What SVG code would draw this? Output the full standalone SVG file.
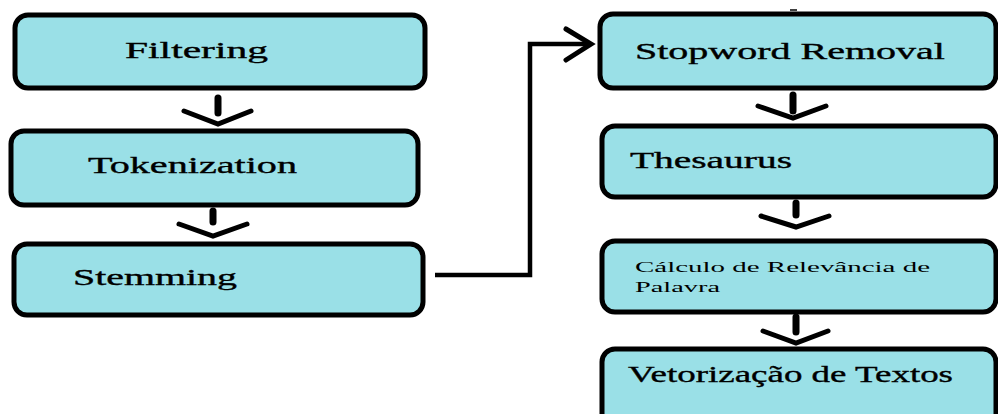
<svg xmlns="http://www.w3.org/2000/svg" width="998" height="414" viewBox="0 0 998 414">
  <style>
    .box { fill: #9ae0e7; stroke: #000; stroke-width: 5; }
    .lbl { font-family: "Liberation Serif", "Times New Roman", serif; font-size: 23px; fill: #000; stroke: #000; stroke-width: 0.35; }
    .sm { font-size: 15px; stroke-width: 0; }
    .stem { fill: none; stroke: #000; stroke-width: 7; stroke-linecap: round; }
    .chev { fill: none; stroke: #000; stroke-width: 5; stroke-linecap: round; stroke-linejoin: miter; }
    .wire { fill: none; stroke: #000; stroke-width: 4.5; stroke-linejoin: miter; }
  </style>
  <rect width="998" height="414" fill="#fff"/>

  <!-- left column -->
  <g id="filtering">
    <rect class="box" x="15" y="15" width="410" height="73" rx="13"/>
    <text class="lbl" x="125" y="58" textLength="143" lengthAdjust="spacingAndGlyphs">Filtering</text>
  </g>
  <g id="tokenization">
    <rect class="box" x="11" y="131" width="407" height="74" rx="13"/>
    <text class="lbl" x="88" y="173" textLength="209" lengthAdjust="spacingAndGlyphs">Tokenization</text>
  </g>
  <g id="stemming">
    <rect class="box" x="14" y="244" width="409" height="71" rx="13"/>
    <text class="lbl" x="73" y="285" textLength="164" lengthAdjust="spacingAndGlyphs">Stemming</text>
  </g>

  <!-- right column -->
  <g id="stopword-removal">
    <rect class="box" x="600" y="14" width="396" height="74" rx="13"/>
    <text class="lbl" x="635" y="59" textLength="310" lengthAdjust="spacingAndGlyphs">Stopword Removal</text>
  </g>
  <g id="thesaurus">
    <rect class="box" x="602" y="126" width="394" height="71" rx="13"/>
    <text class="lbl" x="630" y="168" textLength="162" lengthAdjust="spacingAndGlyphs">Thesaurus</text>
  </g>
  <g id="relevancia">
    <rect class="box" x="602" y="241" width="394" height="71" rx="13"/>
    <text class="lbl sm" x="635" y="272" textLength="295" lengthAdjust="spacingAndGlyphs">Cálculo de Relevância de</text>
    <text class="lbl sm" x="635" y="292" textLength="85" lengthAdjust="spacingAndGlyphs">Palavra</text>
  </g>
  <g id="vetorizacao">
    <rect class="box" x="602" y="349" width="394" height="80" rx="13"/>
    <text class="lbl" x="628" y="382" textLength="325" lengthAdjust="spacingAndGlyphs">Vetorização de Textos</text>
  </g>

  <!-- connectors -->
  <g id="connectors">
    <path class="stem" d="M218 98 V113"/>
    <path class="chev" d="M184 111 L218 124 L251 111"/>
    <path class="stem" d="M213 211 V222"/>
    <path class="chev" d="M179 224 L213 236 L247 224"/>

    <path class="wire" d="M435 275 H530 V44 H588"/>
    <path class="chev" d="M566 29 L591 44 L566 60"/>

    <path class="stem" d="M793 95 V111"/>
    <path class="chev" d="M758 106 L793 118 L826 106"/>
    <path class="stem" d="M796 203 V215"/>
    <path class="chev" d="M761 216 L796 227 L829 216"/>
    <path class="stem" d="M796 317 V332"/>
    <path class="chev" d="M763 331 L796 343 L828 331"/>
    <path d="M790 10 H797" stroke="#000" stroke-width="1.5"/>
  </g>
</svg>
